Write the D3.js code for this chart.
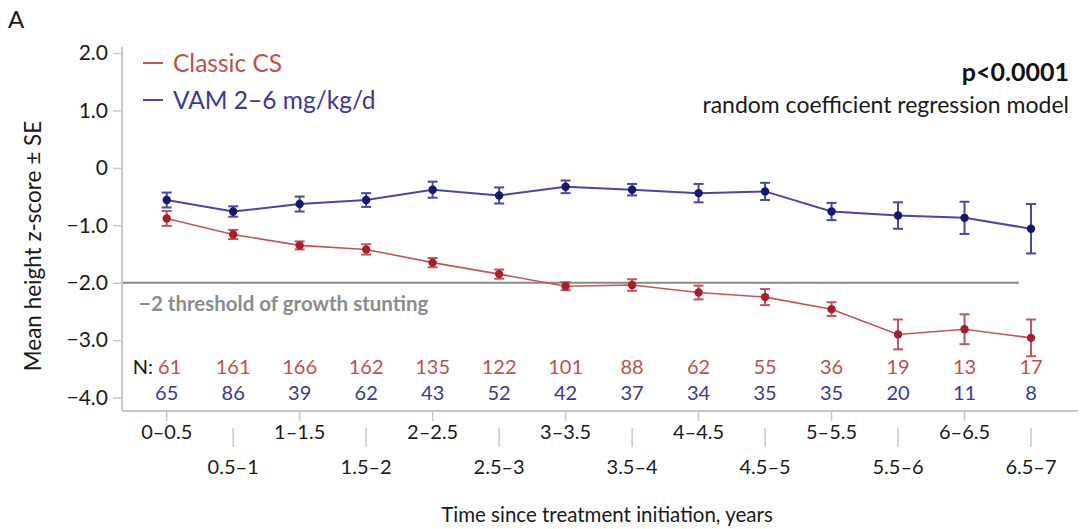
<!DOCTYPE html>
<meta charset="utf-8">
<script src="https://cdn.jsdelivr.net/npm/d3@7"></script>
<style>
	body{margin:0;background:#fff;font-family:Lato,"Open Sans",sans-serif;}
	text{font-family:Lato,"Open Sans",sans-serif;}
</style>
<div id="chart"></div>
<script>
// categories along the x axis
var periods = ["0–0.5","0.5–1","1–1.5","1.5–2","2–2.5","2.5–3","3–3.5","3.5–4","4–4.5","4.5–5","5–5.5","5.5–6","6–6.5","6.5–7"]
// mean height z-score and SE for each group
var classicMean = [-0.88,-1.16,-1.35,-1.42,-1.65,-1.85,-2.06,-2.04,-2.17,-2.25,-2.46,-2.90,-2.81,-2.96]
var classicSE   = [0.13,0.08,0.07,0.09,0.08,0.08,0.07,0.10,0.12,0.14,0.12,0.26,0.26,0.32]
var vamMean = [-0.56,-0.76,-0.63,-0.56,-0.38,-0.48,-0.33,-0.38,-0.44,-0.41,-0.76,-0.83,-0.87,-1.06]
var vamSE   = [0.13,0.09,0.13,0.12,0.14,0.14,0.11,0.10,0.16,0.15,0.15,0.23,0.28,0.43]
// patients per period
var classicN = [61,161,166,162,135,122,101,88,62,55,36,19,13,17]
var vamN     = [65,86,39,62,43,52,42,37,34,35,35,20,11,8]
var yTicks = [2,1,0,-1,-2,-3,-4]
var threshold = -2

var width = 1086, height = 529
var axisCol = "#c8c8c8"
var redLine = "#c4545c", redDot = "#a3202c", redText = "#c0504d"
var blueLine = "#4848a8", blueDot = "#16186a", blueText = "#3a3a96"

var svg = d3.select("#chart").append("svg")
	.attr("width",width).attr("height",height)

var xScale = d3.scalePoint().domain(periods).range([166.7,1031])
var yScale = d3.scaleLinear().domain([-4,2]).range([397.6,53])

// y axis
var yAxis = d3.axisLeft(yScale).tickValues(yTicks).tickSize(9).tickPadding(5)
	.tickFormat(function(d){ return d==0 ? "0" : d3.format(".1f")(d).replace("-","\u2212") })
var gy = svg.append("g").attr("transform","translate(122,0)").call(yAxis)
gy.select(".domain").remove()
gy.selectAll(".tick line").attr("stroke",axisCol).attr("stroke-width",1.5)
gy.selectAll(".tick text").attr("font-size",21).attr("fill","#1a1a1a")
svg.append("line").attr("x1",122).attr("x2",122).attr("y1",47).attr("y2",411)
	.attr("stroke",axisCol).attr("stroke-width",2)

// x axis
svg.append("line").attr("x1",122).attr("x2",1078).attr("y1",411).attr("y2",411)
	.attr("stroke",axisCol).attr("stroke-width",2)
var xt = svg.append("g").selectAll("g").data(periods).enter().append("g")
	.attr("transform",function(d){ return "translate("+xScale(d)+",0)" })
xt.append("line")
	.attr("y1",function(d,i){ return i%2==0 ? 411 : 428 })
	.attr("y2",function(d,i){ return i%2==0 ? 421 : 447 })
	.attr("stroke",axisCol).attr("stroke-width",1.5)
xt.append("text")
	.attr("y",function(d,i){ return i%2==0 ? 432 : 467 })
	.attr("dy","0.35em").attr("text-anchor","middle")
	.attr("font-size",20).attr("fill","#1a1a1a")
	.text(function(d){ return d })

svg.append("text").attr("x",607).attr("y",515).attr("dy","0.35em")
	.attr("text-anchor","middle").attr("font-size",20.5).attr("fill","#1a1a1a")
	.text("Time since treatment initiation, years")
svg.append("text").attr("transform","translate(33,246) rotate(-90)")
	.attr("dy","0.35em").attr("text-anchor","middle").attr("font-size",22.5).attr("fill","#1a1a1a")
	.text("Mean height z-score \u00b1 SE")

// threshold
svg.append("line").attr("x1",123).attr("x2",1019)
	.attr("y1",yScale(threshold)).attr("y2",yScale(threshold))
	.attr("stroke","#8a8a8a").attr("stroke-width",2.2)
svg.append("text").attr("x",139).attr("y",304).attr("dy","0.35em")
	.attr("font-size",20.5).attr("font-weight","bold").attr("fill","#8c8c8c")
	.text("\u22122 threshold of growth stunting")

function drawSeries(mean,se,lineCol,dotCol,lw){
	var g = svg.append("g")
	g.append("path").datum(mean)
		.attr("fill","none").attr("stroke",lineCol).attr("stroke-width",lw)
		.attr("d",d3.line()
			.x(function(d,i){ return xScale(periods[i]) })
			.y(function(d){ return yScale(d) }))
	var eb = g.selectAll(".eb").data(mean).enter().append("g")
	eb.append("line")
		.attr("x1",function(d,i){ return xScale(periods[i]) })
		.attr("x2",function(d,i){ return xScale(periods[i]) })
		.attr("y1",function(d,i){ return yScale(d+se[i]) })
		.attr("y2",function(d,i){ return yScale(d-se[i]) })
		.attr("stroke",lineCol).attr("stroke-width",2)
	;[1,-1].forEach(function(s){
		eb.append("line")
			.attr("x1",function(d,i){ return xScale(periods[i])-5 })
			.attr("x2",function(d,i){ return xScale(periods[i])+5 })
			.attr("y1",function(d,i){ return yScale(d+s*se[i]) })
			.attr("y2",function(d,i){ return yScale(d+s*se[i]) })
			.attr("stroke",lineCol).attr("stroke-width",2)
	})
	eb.append("circle")
		.attr("cx",function(d,i){ return xScale(periods[i]) })
		.attr("cy",function(d){ return yScale(d) })
		.attr("r",4.2).attr("fill",dotCol)
}
drawSeries(classicMean,classicSE,redLine,redDot,1.6)
drawSeries(vamMean,vamSE,blueLine,blueDot,2)

// N row
svg.append("text").attr("x",153).attr("y",367).attr("dy","0.35em").attr("text-anchor","end")
	.attr("font-size",20).attr("fill","#1a1a1a").text("N:")
svg.append("g").selectAll("text").data(classicN).enter().append("text")
	.attr("x",function(d,i){ return xScale(periods[i]) + (i==0 ? 3 : 0) })
	.attr("y",367).attr("dy","0.35em").attr("text-anchor","middle")
	.attr("font-size",20).attr("fill",redText).text(function(d){ return d })
svg.append("g").selectAll("text").data(vamN).enter().append("text")
	.attr("x",function(d,i){ return xScale(periods[i]) })
	.attr("y",393).attr("dy","0.35em").attr("text-anchor","middle")
	.attr("font-size",20).attr("fill",blueText).text(function(d){ return d })

// legend
var legend = [["Classic CS",redLine,redText,63],["VAM 2\u20136 mg/kg/d",blueLine,blueText,100]]
legend.forEach(function(l){
	svg.append("line").attr("x1",143).attr("x2",163).attr("y1",l[3]).attr("y2",l[3])
		.attr("stroke",l[1]).attr("stroke-width",2)
	svg.append("text").attr("x",173).attr("y",l[3]).attr("dy","0.35em")
		.attr("font-size",24.5).attr("fill",l[2]).text(l[0])
})

// annotations
svg.append("text").attr("x",8).attr("y",20).attr("dy","0.35em")
	.attr("font-size",24).attr("fill","#1a1a1a").text("A")
svg.append("text").attr("x",1069).attr("y",72).attr("dy","0.35em").attr("text-anchor","end")
	.attr("font-size",25).attr("font-weight","bold").attr("fill","#111").text("p<0.0001")
svg.append("text").attr("x",1069).attr("y",105).attr("dy","0.35em").attr("text-anchor","end")
	.attr("font-size",23).attr("fill","#1a1a1a").text("random coefficient regression model")
</script>
